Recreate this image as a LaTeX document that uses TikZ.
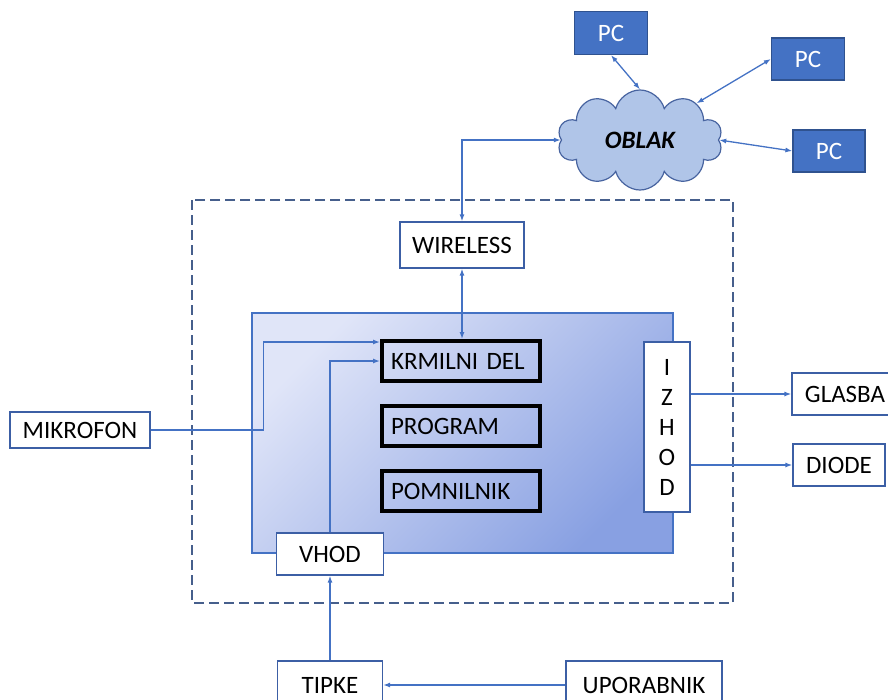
\documentclass[tikz,border=0pt]{standalone}
\usepackage{fontspec}
\setmainfont{Carlito}
\usetikzlibrary{arrows.meta,shapes.symbols}

\definecolor{lineblue}{RGB}{68,114,196}
\definecolor{edgeblue}{RGB}{60,95,165}
\definecolor{pcblue}{RGB}{68,114,196}
\definecolor{pcedge}{RGB}{47,82,143}
\definecolor{oblakfill}{RGB}{176,197,232}
\definecolor{oblakedge}{RGB}{72,100,160}
\definecolor{framegray}{RGB}{70,95,140}
\definecolor{innerlight}{RGB}{224,229,248}
\definecolor{innerdark}{RGB}{136,160,226}

\begin{document}
\begin{tikzpicture}[x=1pt,y=-1pt,
    every node/.style={font=\fontsize{25}{29}\selectfont},
    box/.style={draw=edgeblue,fill=white,line width=1.2pt,minimum height=42pt},
    pcbox/.style={draw=pcedge,fill=pcblue,text=white,line width=1.2pt,minimum width=73pt,minimum height=43pt},
    partbox/.style={draw=black,line width=4pt,minimum height=40pt,text width=140pt,align=left,inner xsep=9pt},
    link/.style={draw=lineblue,line width=1.3pt},
    >={Latex[length=7pt,width=5pt]}]
    \useasboundingbox (0,0) rectangle (888,699);

    % naprava (dashed frame)
    \draw[framegray,line width=1.3pt,dash pattern=on 10pt off 5pt] (192,200) rectangle (733,603);

    % cloud and PCs
    \node[cloud,cloud puffs=10,aspect=1.7,draw=oblakedge,fill=oblakfill,line width=1.2pt,
        minimum width=165pt,minimum height=100pt,inner sep=0pt,font=\fontsize{25}{29}\selectfont\bfseries\itshape] (oblak) at (640,140) {OBLAK};
    \node[pcbox] (pc1) at (611,33) {PC};
    \node[pcbox,minimum height=42pt] (pc2) at (808,59) {PC};
    \node[pcbox,minimum width=72pt,minimum height=42pt] (pc3) at (829,151) {PC};

    % inner unit
    \node[draw=lineblue,line width=1.2pt,top color=innerlight,bottom color=innerdark,shading angle=45,
        minimum width=421pt,minimum height=240pt] (enota) at (462.5,433) {};
    \node[box,minimum width=124pt,minimum height=46pt] (wireless) at (462,245) {WIRELESS};
    \node[partbox] (krmilni) at (461,361) {KRMILNI DEL};
    \node[partbox] (program) at (461,426) {PROGRAM};
    \node[partbox] (pomnilnik) at (461,491) {POMNILNIK};
    \node[box,minimum width=46pt,minimum height=170pt,align=center,font=\fontsize{25}{30}\selectfont] (izhod) at (667,427) {I\\Z\\H\\O\\D};
    \node[box,minimum width=107pt] (vhod) at (330,554) {VHOD};

    % outside
    \node[box,minimum width=140pt,minimum height=36pt] (mikrofon) at (80,430) {MIKROFON};
    \node[box,minimum width=106pt] (glasba) at (845,394) {GLASBA};
    \node[box,minimum width=92pt] (diode) at (839,465) {DIODE};
    \node[box,minimum width=105pt,minimum height=48pt] (tipke) at (330,685) {TIPKE};
    \node[box,minimum width=156pt,minimum height=48pt] (uporabnik) at (644,685) {UPORABNIK};

    % connections
    \draw[link,<->] (wireless.north) |- (oblak.west);
    \draw[link,<->] (pc1.south) -- (oblak.north);
    \draw[link,<->] (pc2.west) -- (oblak.33);
    \draw[link,<->] (oblak.east) -- (pc3.west);
    \draw[link,<->] (wireless.south) -- (wireless.south |- krmilni.north);
    \draw[link,->] (mikrofon.east) -- ++(113,0) |- ([yshift=19pt]krmilni.west);
    \draw[link,->] (vhod.north) |- (krmilni.west);
    \draw[link,->] (tipke.north) -- (vhod.south);
    \draw[link,->] (uporabnik.west) -- (tipke.east);
    \draw[link,->] (izhod.east |- glasba.west) -- (glasba.west);
    \draw[link,->] (izhod.east |- diode.west) -- (diode.west);
\end{tikzpicture}
\end{document}
